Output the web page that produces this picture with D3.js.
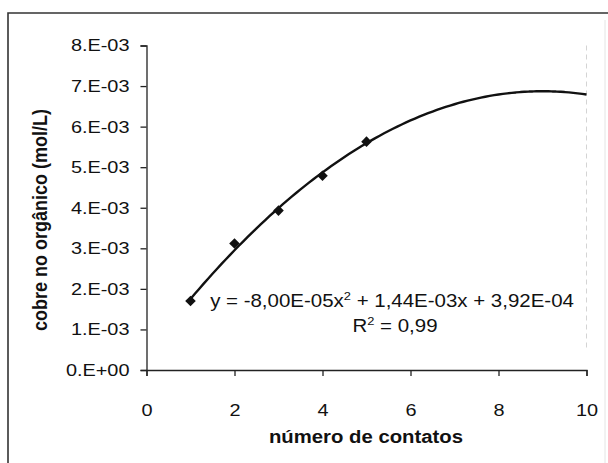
<!DOCTYPE html>
<html>
<head>
<meta charset="utf-8">
<script src="https://cdn.jsdelivr.net/npm/d3@7"></script>
<style>
  body { margin: 0; background: #fff; }
  text { font-family: "Liberation Sans", Arial, sans-serif; fill: #111; }
</style>
</head>
<body>
<svg id="chart" width="608" height="463"></svg>
<script>
// measured points (número de contatos vs cobre no orgânico)
var contatos = [1, 2, 3, 4, 5];
var cobre = [1.70e-3, 3.12e-3, 3.93e-3, 4.79e-3, 5.63e-3];

// trend line coefficients shown on the chart: a*x^2 + b*x + c
var trendCoef = [-8.00e-5, 1.44e-3, 3.92e-4];
var trendRange = [1, 10];

var xTicks = [0, 2, 4, 6, 8, 10];
var yTicks = [0, 1e-3, 2e-3, 3e-3, 4e-3, 5e-3, 6e-3, 7e-3, 8e-3];
var yTickLabels = ["0.E+00", "1.E-03", "2.E-03", "3.E-03", "4.E-03",
                   "5.E-03", "6.E-03", "7.E-03", "8.E-03"];

var svg = d3.select("#chart");
var stretch = 1.17;

// outer frame (scanned chart border)
svg.append("path")
    .attr("d", "M8,463 L8,13 L608,13")
    .attr("fill", "none")
    .attr("stroke", "#333")
    .attr("stroke-width", 1.6);
svg.append("line")
    .attr("x1", 605).attr("x2", 605)
    .attr("y1", 20).attr("y2", 463)
    .attr("stroke", "#e4e4e4")
    .attr("stroke-width", 1);

var x = d3.scaleLinear().domain([0, 10]).range([146.5, 586.5]);
var y = d3.scaleLinear().domain([0, 8e-3]).range([370, 45.5]);

// faint plot area right edge
svg.append("line")
    .attr("x1", x(10)).attr("x2", x(10))
    .attr("y1", y(8e-3)).attr("y2", y(0.5e-3))
    .attr("stroke", "#d4d4d4")
    .attr("stroke-dasharray", "5,4")
    .attr("stroke-width", 1);

var yAxis = svg.append("g")
    .attr("transform", "translate(" + x(0) + ",0)")
    .call(d3.axisLeft(y)
      .tickValues(yTicks)
      .tickSize(6)
      .tickFormat(function(d, i) { return yTickLabels[i]; }));

yAxis.selectAll("text")
    .attr("x", -17 / stretch)
    .attr("transform", "scale(" + stretch + ",1)")
    .style("font-size", "17px")
    .style("font-family", "'Liberation Sans', Arial, sans-serif")
    .attr("fill", "#111");

var xAxis = svg.append("g")
    .attr("transform", "translate(0," + y(0) + ")")
    .call(d3.axisBottom(x)
      .tickValues(xTicks)
      .tickSize(6)
      .tickFormat(d3.format("d")));

xAxis.selectAll("text")
    .attr("y", 34)
    .attr("transform", "scale(" + stretch + ",1)")
    .style("font-size", "17px")
    .style("font-family", "'Liberation Sans', Arial, sans-serif")
    .attr("fill", "#111");

svg.selectAll(".domain, .tick line")
    .attr("stroke", "#222")
    .attr("stroke-width", 1.3);

// trend line
function trend(v) {
  return trendCoef[0] * v * v + trendCoef[1] * v + trendCoef[2];
}
var trendX = d3.range(trendRange[0], trendRange[1] + 0.001, 0.1);

var line = d3.line()
    .x(function(d) { return x(d); })
    .y(function(d) { return y(trend(d)); })
    .curve(d3.curveMonotoneX);

svg.append("path")
    .datum(trendX)
    .attr("d", line)
    .attr("fill", "none")
    .attr("stroke", "#111")
    .attr("stroke-width", 2.4);

// markers: square diamonds like Excel's
var marker = d3.symbol().type(d3.symbolSquare).size(56);
svg.selectAll(".pt")
    .data(contatos)
  .enter().append("path")
    .attr("class", "pt")
    .attr("d", marker)
    .attr("transform", function(d, i) {
      return "translate(" + x(d) + "," + y(cobre[i]) + ") rotate(45)";
    })
    .attr("fill", "#111");

// equation labels
var eq = svg.append("text")
    .attr("transform", "translate(392,307) scale(" + stretch + ",1)")
    .attr("text-anchor", "middle")
    .style("font-size", "17.5px");
eq.append("tspan").text("y = -8,00E-05x");
eq.append("tspan").attr("dy", -7).style("font-size", "11px").text("2");
eq.append("tspan").attr("dy", 7).text(" + 1,44E-03x + 3,92E-04");

var r2 = svg.append("text")
    .attr("transform", "translate(395,332) scale(" + stretch + ",1)")
    .attr("text-anchor", "middle")
    .style("font-size", "17.5px");
r2.append("tspan").text("R");
r2.append("tspan").attr("dy", -7).style("font-size", "11px").text("2");
r2.append("tspan").attr("dy", 7).text(" = 0,99");

// axis titles
svg.append("text")
    .attr("transform", "translate(366,443) scale(1.07,1)")
    .attr("text-anchor", "middle")
    .style("font-size", "19px")
    .style("font-weight", "bold")
    .text("número de contatos");

svg.append("text")
    .attr("transform", "translate(47,220) rotate(-90) scale(1," + stretch + ")")
    .attr("text-anchor", "middle")
    .style("font-size", "18px")
    .style("font-weight", "bold")
    .text("cobre no orgânico (mol/L)");
</script>
</body>
</html>
